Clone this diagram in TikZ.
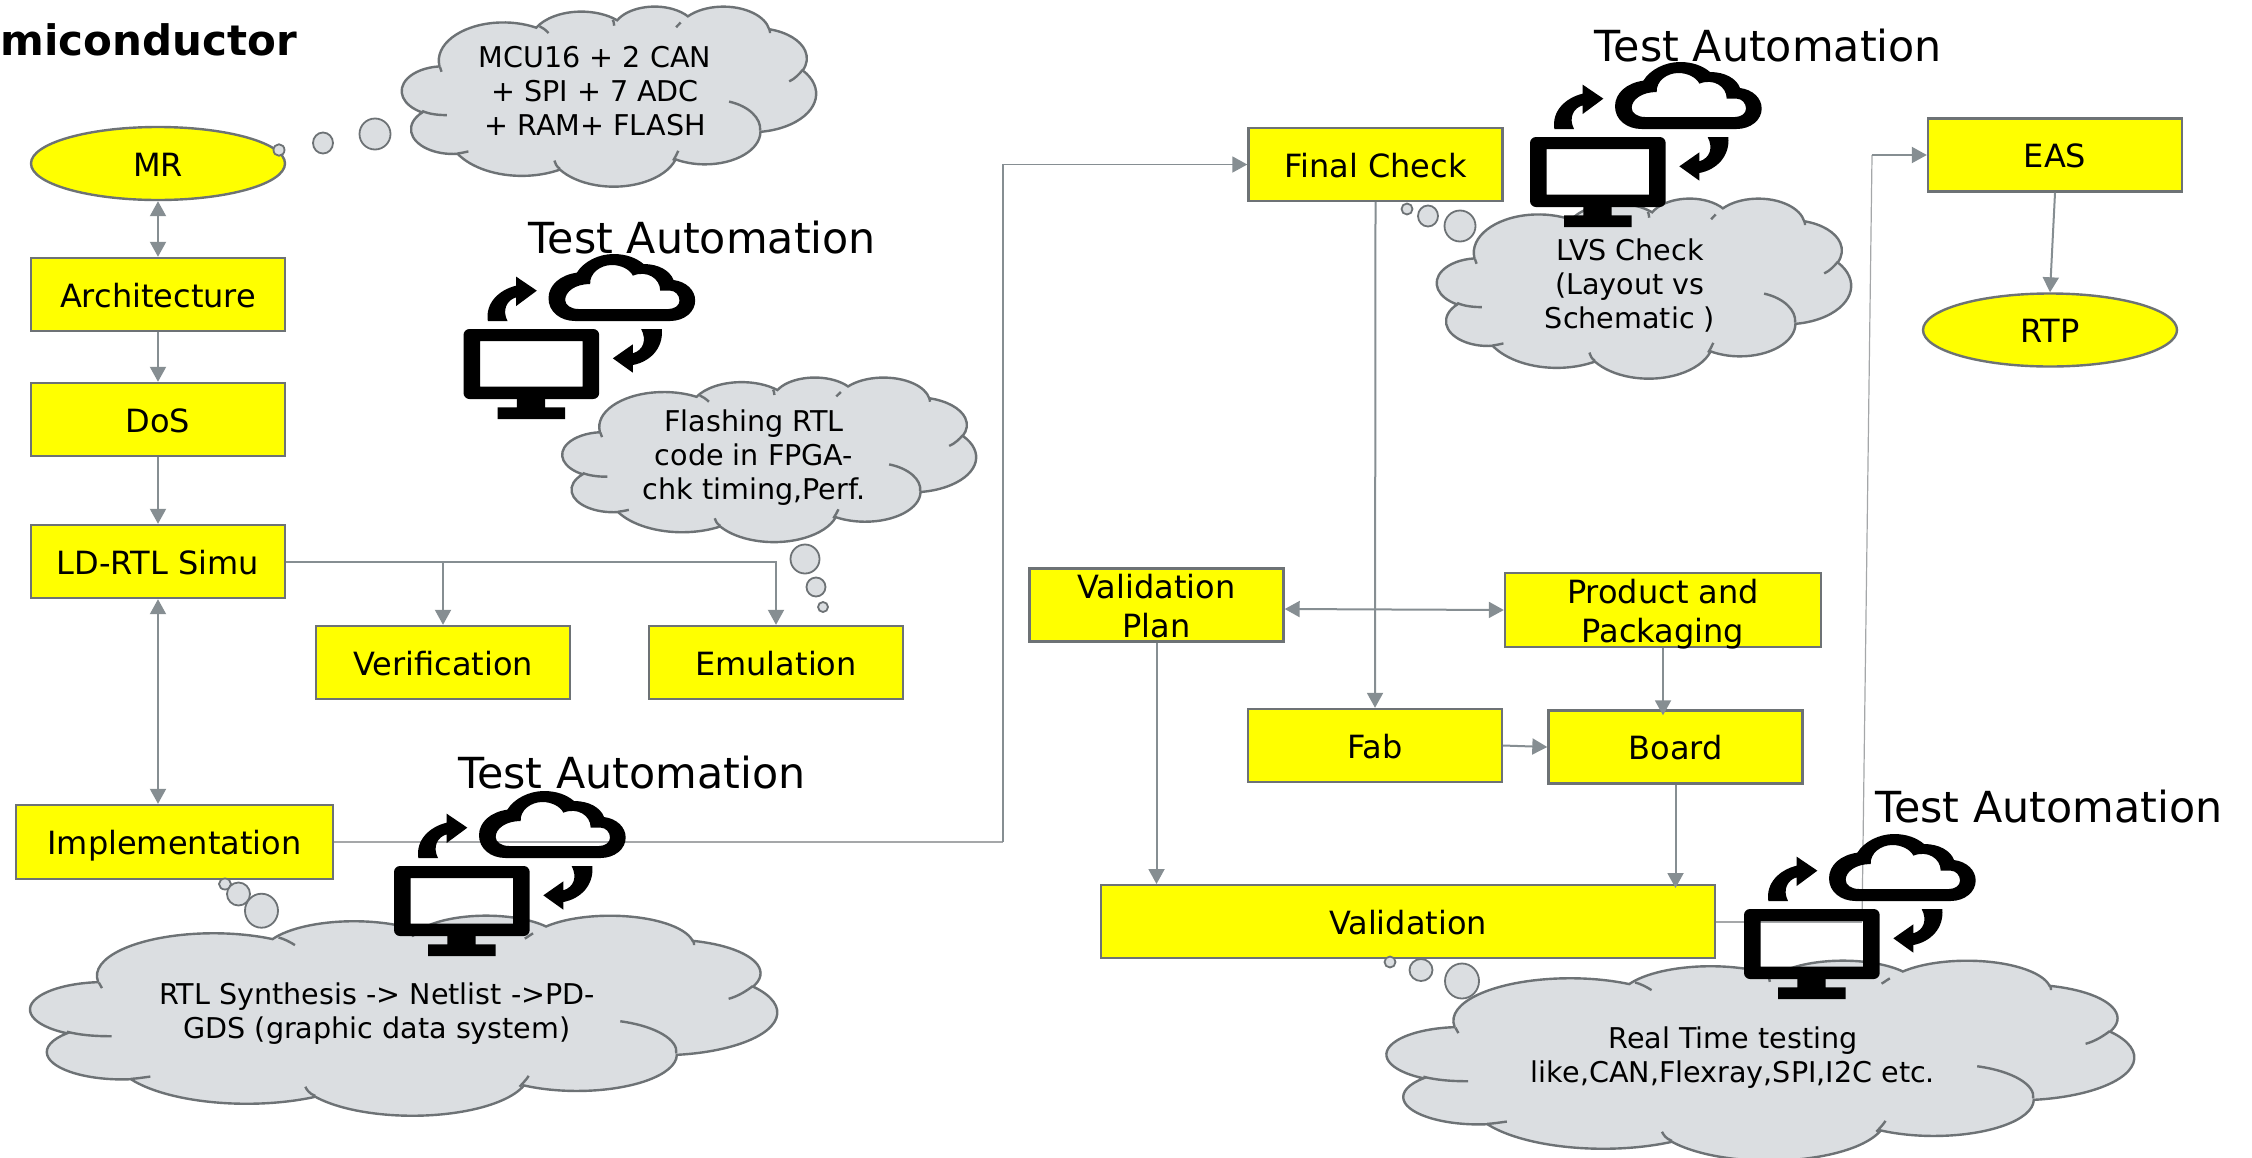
\documentclass[tikz,border=0pt]{standalone}
\usepackage{fontspec}
\setmainfont{DejaVu Sans}
\usetikzlibrary{arrows.meta,shapes.geometric}
\definecolor{linegray}{HTML}{868E92}
\definecolor{thingray}{HTML}{A5A7A9}
\definecolor{edgegray}{HTML}{6D7275}
\definecolor{cloudfill}{HTML}{DBDEE1}
\definecolor{boxyellow}{RGB}{255,255,0}
\tikzset{
  >={Triangle[length=7.5pt,width=8pt]},
  ybox/.style={draw=edgegray,fill=boxyellow,line width=1.2pt,inner sep=0pt,minimum width=127pt,minimum height=36.5pt,
    font=\fontsize{16}{19.5}\selectfont,align=center},
  oneline/.style={text height=12.9pt,text depth=0pt},
  yell/.style={ybox,shape=ellipse,oneline},
  conn/.style={draw=linegray,line width=1pt,->},
  thin conn/.style={draw=thingray,line width=0.9pt},
  cloudtext/.style={font=\fontsize{14.3}{17}\selectfont,align=center,inner sep=0pt,text=black},
  talabel/.style={font=\fontsize{21.4}{25}\selectfont,anchor=base,inner sep=0pt},
  bubble/.style={draw=edgegray,fill=cloudfill,line width=0.9pt}
}
\newcommand\cldarc[4]{\pgfextra{\pgfmathparse{atan2(#1*sin(#3),#2*cos(#3))}\xdef\cldA{\pgfmathresult}\pgfmathparse{atan2(#1*sin(#3+#4),#2*cos(#3+#4))}\xdef\cldB{\pgfmathresult}\pgfmathparse{mod(\cldB-\cldA+720,360)}\xdef\cldD{\pgfmathresult}} arc[start angle=\cldA,delta angle=\cldD,x radius=#1,y radius=#2]}
% cloud callout body, in a 432x432 box
\newcommand\cloudbody[4]{%
  \pgfmathsetmacro\cldsx{(#3-#1)/432*0.5}\pgfmathsetmacro\cldsy{(#4-#2)/432*0.5}%
  \begin{scope}[shift={(#1,#2)},x=1pt,y=1pt,xscale=\cldsx,yscale=-\cldsy]
    \draw[draw=edgegray,fill=cloudfill,line width=1.2pt] (39,143.7)
      \cldarc{67.53}{91.90}{-190.487}{123.781}
      \cldarc{53.33}{72.67}{-144.102}{89.945}
      \cldarc{43.65}{59.45}{-145.808}{99.723}
      \cldarc{48.57}{65.95}{-130.986}{117.242}
      \cldarc{53.33}{72.73}{-78.709}{109.027}
      \cldarc{67.75}{92.20}{-46.267}{130.269}
      \cldarc{57.85}{78.67}{0.625}{114.033}
      \cldarc{67.52}{92.15}{22.452}{115.173}
      \cldarc{77.20}{105.43}{66.243}{75.711}
      \cldarc{43.60}{59.18}{-274.942}{146.736}
      \cldarc{43.45}{59.45}{-246.829}{152.519} -- cycle;
    \draw[draw=edgegray,line width=1.2pt]
      (41.3,157.9) .. controls (41,155) and (40,150) .. (39.5,146)
      (46.9,261.8) .. controls (37,262) and (28,259) .. (21,252)
      (69.3,349) .. controls (65,351) and (62,353) .. (58,354)
      (164.8,390.9) .. controls (161,385) and (160,378) .. (159,371)
      (288.3,347.5) .. controls (287,355) and (285,363) .. (283,371)
      (341.3,229.5) .. controls (362,240) and (375,270) .. (373.7,299)
      (417.98,153.5) .. controls (415,162) and (410,175) .. (404,181)
      (383.2,54.3) .. controls (384,58) and (384,62) .. (384,65)
      (290.8,39.5) .. controls (289,43) and (288,47) .. (286,51)
      (221.4,47.2) .. controls (221,41) and (221,37) .. (220,33)
      (143.5,48.5) .. controls (147,52) and (150,58) .. (153,65);
  \end{scope}}
\newcommand\testicon[2]{%
  \begin{scope}[shift={(#1,#2)},x=0.16667pt,y=-0.16667pt]
  \begin{scope}[shift={(-40,-267)}]
    \fill[black,even odd rule,rounded corners=3pt] (40,267) rectangle (447,477) [sharp corners] (90,303) rectangle (397,440);
    \fill[black] (200,470) rectangle (285,505) (142,502) rectangle (345,537);
    \fill[black,even odd rule]
      (375,243) .. controls (330,243) and (295,215) .. (295,175) .. controls (295,135) and (330,105) .. (380,98)
      .. controls (400,65) and (445,42) .. (490,42) .. controls (530,42) and (560,55) .. (580,72)
      .. controls (625,72) and (660,92) .. (670,120) .. controls (708,125) and (735,150) .. (735,182)
      .. controls (735,215) and (703,243) .. (660,243) -- cycle
      (385,207) .. controls (362,207) and (345,195) .. (345,180) .. controls (345,155) and (375,132) .. (420,132)
      .. controls (418,100) and (450,75) .. (485,75) .. controls (515,75) and (540,90) .. (548,107)
      .. controls (590,90) and (630,115) .. (630,152) -- (660,152) .. controls (675,152) and (688,165) .. (688,182)
      .. controls (688,197) and (672,207) .. (655,207) -- cycle;
    \fill[black] (113,243) .. controls (105,190) and (145,150) .. (198,137) -- (198,110) -- (260,152) -- (198,198) -- (198,172)
      .. controls (170,180) and (155,210) .. (172,243) -- cycle;
    \fill[black] (635,267) .. controls (640,325) and (600,365) .. (548,375) -- (548,398) -- (488,355) -- (548,313) -- (548,340)
      .. controls (580,330) and (590,300) .. (573,267) -- cycle;
  \end{scope}
  \end{scope}}
\newcommand\bub[4]{\draw[bubble] (#1,#2) ellipse[x radius=#3/2,y radius=#4/2];}
\begin{document}
\begin{tikzpicture}[x=0.5pt,y=-0.5pt]
\useasboundingbox (0,0) rectangle (2252,1157);
\clip (0,0) rectangle (2252,1157);
% title
\node[font=\fontsize{21}{25}\bfseries\selectfont,anchor=base west,inner sep=0pt] (title) at (0,55) {miconductor};
% boxes
\node[yell] (mr) at (158,163.5) {MR};
\node[ybox,oneline] (arch) at (158,294.5) {Architecture};
\node[ybox,oneline] (dos) at (158,419.5) {DoS};
\node[ybox,oneline] (ld) at (158,561.5) {LD-RTL Simu};
\node[ybox,oneline] (ver) at (443,662.5) {Verification};
\node[ybox,oneline] (emu) at (776,662.5) {Emulation};
\node[ybox,oneline,minimum width=158.5pt,minimum height=37pt] (impl) at (174.5,842) {Implementation};
\node[ybox,oneline] (final) at (1375.5,164.5) {Final Check};
\node[ybox,oneline] (eas) at (2055,155) {EAS};
\node[yell] (rtp) at (2050,330) {RTP};
\node[ybox,inner ysep=-3pt] (vp) at (1156.5,605) {\rule{0pt}{13.7pt}Validation\\Plan};
\node[ybox,inner ysep=-5pt,minimum width=158pt,minimum height=37pt] (pp) at (1663,610) {\rule{0pt}{16.7pt}Product and\\Packaging};
\node[ybox,oneline] (fab) at (1375,745.5) {Fab};
\node[ybox,oneline] (board) at (1675.5,747) {Board};
\node[ybox,oneline,minimum width=307pt] (val) at (1408,921.7) {Validation};
% connectors
\coordinate (jogA) at (1003,842);
\coordinate (jogB) at (1862,921.7);
\coordinate (jogC) at (1872,155);
\draw[conn,<->] (mr.south) -- (arch.north);
\draw[conn] (arch.south) -- (dos.north);
\draw[conn] (dos.south) -- (ld.north);
\draw[conn] (ld.east) -| (ver.north);
\draw[conn] (ld.east) -| (emu.north);
\draw[conn,<->] (ld.south) -- (ld.south |- impl.north);
\draw[thin conn] (impl.east) -- (jogA);
\draw[conn,line width=0.9pt] (jogA) |- (final.west);
\draw[conn] (final.south) -- (fab.north);
\draw[conn,<->] ([yshift=-2pt]vp.east) -- (pp.west);
\draw[conn] (fab.east) -- (board.west);
\draw[conn] (pp.south) -- ([yshift=-3pt]pp.south |- board.north);
\draw[conn] (vp.south) -- (vp.south |- val.north);
\draw[conn] (board.south) -- ([yshift=-2pt]board.south |- val.north);
\draw[thin conn] (val.east) -- (jogB);
\draw[thin conn,line width=0.6pt] (jogB) -- (jogC);
\draw[conn] (jogC) -- (eas.west);
\draw[conn] (eas.south) -- (rtp.north);
% clouds and thought bubbles
\cloudbody{402}{6}{816}{186}
\bub{279}{150}{11}{11.5}\bub{323}{143}{20}{21}\bub{375}{134}{31}{31}
\node[cloudtext] (tmcu) at (595,91) {MCU16 + 2 CAN\\+ SPI + 7 ADC\\+ RAM+ FLASH};
\cloudbody{562.5}{377}{976}{541.5}
\bub{805}{559}{29}{29}\bub{816}{587}{19}{19}\bub{823}{607}{10}{10}
\node[cloudtext] (tflash) at (754,458) {Flashing RTL\\code in FPGA-\\chk timing,Perf.};
\cloudbody{30.6}{915}{777}{1115}
\bub{225}{884}{12}{11}\bub{238.5}{894}{23}{23}\bub{261.5}{910.7}{33}{34}
\node[cloudtext] (trtl) at (377,1014) {RTL Synthesis -> Netlist ->PD-\\GDS (graphic data system)};
\cloudbody{1437}{198}{1851}{378}
\bub{1407}{209}{11}{11}\bub{1428}{216}{20}{21}\bub{1460}{226}{31}{31}
\node[cloudtext] (tlvs) at (1630,285.5) {LVS Check\\(Layout vs\\Schematic )};
\cloudbody{1387}{960}{2134}{1160}
\bub{1390}{962}{11}{11}\bub{1421}{970}{23}{22}\bub{1462}{981}{34}{35}
\node[cloudtext] (trt) at (1733,1058) {Real Time testing\\like,CAN,Flexray,SPI,I2C etc.};
% automation icons
\testicon{463.5}{329}
\testicon{394}{866}
\testicon{1530}{137}
\testicon{1744}{909}
\node[talabel] (ta1) at (702.5,253) {Test Automation};
\node[talabel] (ta2) at (632,788.5) {Test Automation};
\node[talabel] (ta3) at (1768.5,61) {Test Automation};
\node[talabel] (ta4) at (2049,822) {Test Automation};
\end{tikzpicture}
\end{document}
